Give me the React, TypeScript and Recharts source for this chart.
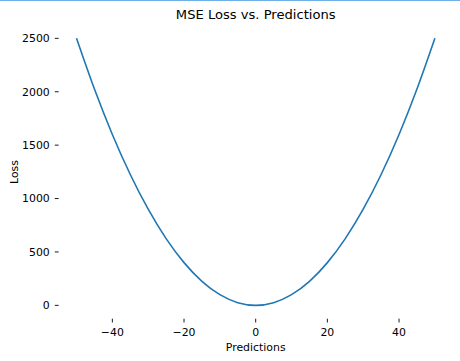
import React from 'react';
import { LineChart, Line, XAxis, YAxis } from 'recharts';

const predictions = [-50, -45, -40, -35, -30, -25, -20, -15, -10, -5, 0, 5, 10, 15, 20, 25, 30, 35, 40, 45, 50];
const losses = [2500, 2025, 1600, 1225, 900, 625, 400, 225, 100, 25, 0, 25, 100, 225, 400, 625, 900, 1225, 1600, 2025, 2500];
const xTicks = [-40, -20, 0, 20, 40];
const yTicks = [0, 500, 1000, 1500, 2000, 2500];

const data = predictions.map((x, i) => ({ x, loss: losses[i] }));

const FONT = '"DejaVu Sans", sans-serif';
const fmt = (v: number) => String(v).replace('-', '\u2212');

export default function App() {
  return (
    <div style={{ position: 'absolute', left: 0, top: 0, width: 460, height: 361, background: '#fff', fontFamily: FONT }}>
      <LineChart
        width={460}
        height={361}
        data={data}
        margin={{ top: 25, right: 7.2, left: 0, bottom: 0 }}
      >
        <XAxis
          type="number"
          dataKey="x"
          domain={[-55, 55]}
          ticks={xTicks}
          tickFormatter={fmt}
          axisLine={false}
          tickLine={{ stroke: '#000', strokeWidth: 0.9 }}
          tickSize={3.8}
          tickMargin={5.5}
          height={42.3}
          tick={{ fill: '#000', fontSize: 10.9, fontFamily: FONT }}
          allowDataOverflow
        />
        <YAxis
          type="number"
          domain={[-125, 2625]}
          ticks={yTicks}
          tickFormatter={fmt}
          axisLine={false}
          tickLine={{ stroke: '#000', strokeWidth: 0.9 }}
          tickSize={3.8}
          tickMargin={5}
          width={58.6}
          tick={{ fill: '#000', fontSize: 10.9, fontFamily: FONT }}
          allowDataOverflow
        />
        <Line
          type="monotone"
          dataKey="loss"
          stroke="#1f77b4"
          strokeWidth={1.6}
          dot={false}
          isAnimationActive={false}
        />
      </LineChart>
      <svg width={460} height={361} style={{ position: 'absolute', left: 0, top: 0, pointerEvents: 'none' }}>
        <rect x={0} y={0} width={460} height={1} fill="#6fb0e8" />
        <text x={255.7} y={19} textAnchor="middle" fontSize={13.1} fontFamily={FONT} fill="#000">MSE Loss vs. Predictions</text>
        <text x={255.7} y={351.3} textAnchor="middle" fontSize={10.9} fontFamily={FONT} fill="#000">Predictions</text>
        <text x={18} y={172} textAnchor="middle" fontSize={10.9} fontFamily={FONT} fill="#000" transform="rotate(-90, 18, 172)">Loss</text>
      </svg>
    </div>
  );
}
